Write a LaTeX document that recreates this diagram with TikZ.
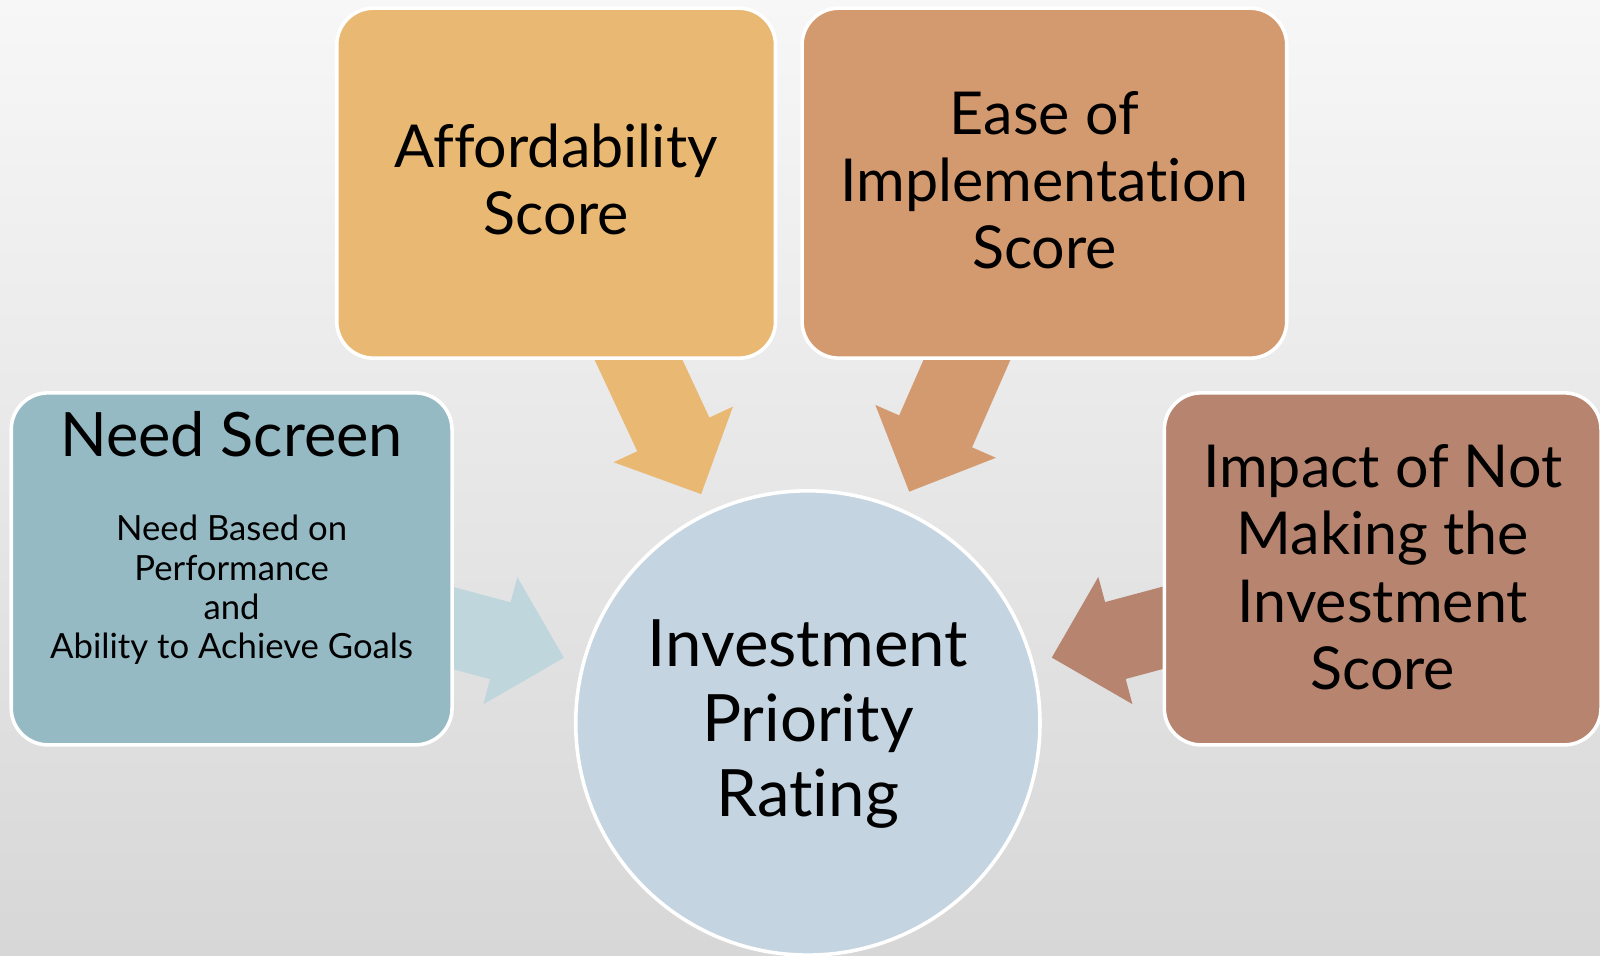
\documentclass[tikz,border=0pt]{standalone}
\usepackage{fontspec}
\setmainfont{Lato}[Ligatures={NoCommon}]
\usetikzlibrary{calc}
\pgfdeclarelayer{background}
\pgfsetlayers{background,main}
\definecolor{affc}{HTML}{E9B872}
\definecolor{easec}{HTML}{D49A6F}
\definecolor{needc}{HTML}{95BAC4}
\definecolor{needarrc}{HTML}{C0D6DD}
\definecolor{impc}{HTML}{B6846F}
\definecolor{circc}{HTML}{C4D5E1}
\definecolor{bgtop}{HTML}{F7F7F7}
\definecolor{bgmid}{HTML}{EAEAEA}
\definecolor{bgbot}{HTML}{D7D7D7}
\tikzset{
  box/.style={draw=white, line width=3.5pt, rounded corners=36pt, inner sep=0pt,
    align=center, text=black, font=\fontsize{58}{66}\selectfont},
  hub/.style={circle, draw=white, line width=3.5pt, fill=circc, inner sep=0pt,
    minimum size=455pt, align=center, text=black, font=\fontsize{64}{73.5}\selectfont},
  subtxt/.style={align=center, inner sep=0pt, text=black, font=\fontsize{34}{38.3}\selectfont},
  titletxt/.style={inner sep=0pt, text=black, font=\fontsize{60}{66}\selectfont}
}
% block arrow from node #1 towards node #2, tip 247.5pt from #2's centre
\newcommand\bkarrow[3]{%
  \coordinate (ba-t) at ($(#2.center)!247.5pt!(#1.center)$);
  \coordinate (ba-h) at ($(ba-t)!64.5pt!(#1.center)$);
  \fill[#3] ($(#1.center)!39pt!90:(ba-t)$) -- ($(ba-h)!39pt!90:(ba-t)$)
    -- ($(ba-h)!64.5pt!90:(ba-t)$) -- (ba-t) -- ($(ba-h)!64.5pt!-90:(ba-t)$)
    -- ($(ba-h)!39pt!-90:(ba-t)$) -- ($(#1.center)!39pt!-90:(ba-t)$) -- cycle;}
\begin{document}
\begin{tikzpicture}[x=1pt,y=-1pt]
\useasboundingbox (0,0) rectangle (1568,936);
\node[box, fill=affc, minimum width=430pt, minimum height=343pt] (aff) at (545,179.5) {};
\node[box, fill=easec, minimum width=475pt, minimum height=343pt] (ease) at (1023.5,179.5) {};
\node[box, fill=needc, minimum width=432pt, minimum height=345pt] (need) at (227,557.5) {};
\node[box, fill=impc, minimum width=428pt, minimum height=345pt] (imp) at (1355,557.5) {};
\node[box, draw=none, fill=none] (afftxt) at (545,176) {Affordability\\Score};
\node[box, draw=none, fill=none] (easetxt) at (1023.5,176.5) {Ease of\\Implementation\\Score};
\node[box, draw=none, fill=none] (imptxt) at (1355,556) {Impact of Not\\Making the\\Investment\\Score};
\node[hub] (rate) at (791.7,708.5) {};
\node[box, draw=none, fill=none, font=\fontsize{64}{73.5}\selectfont] (ratetxt) at (791.7,710) {Investment\\Priority\\Rating};
\node[titletxt, anchor=base] (needtitle) at (227,446.9) {Need Screen};
\node[subtxt] (needsub) at (227,578) {Need Based on\\Performance\\and\\Ability to Achieve Goals};
\begin{pgfonlayer}{background}
\shade[top color=bgtop, middle color=bgmid, bottom color=bgbot] (0,0) rectangle (1568,936);
\bkarrow{aff}{rate}{affc}
\bkarrow{ease}{rate}{easec}
\bkarrow{need}{rate}{needarrc}
\bkarrow{imp}{rate}{impc}
\end{pgfonlayer}
\end{tikzpicture}
\end{document}
